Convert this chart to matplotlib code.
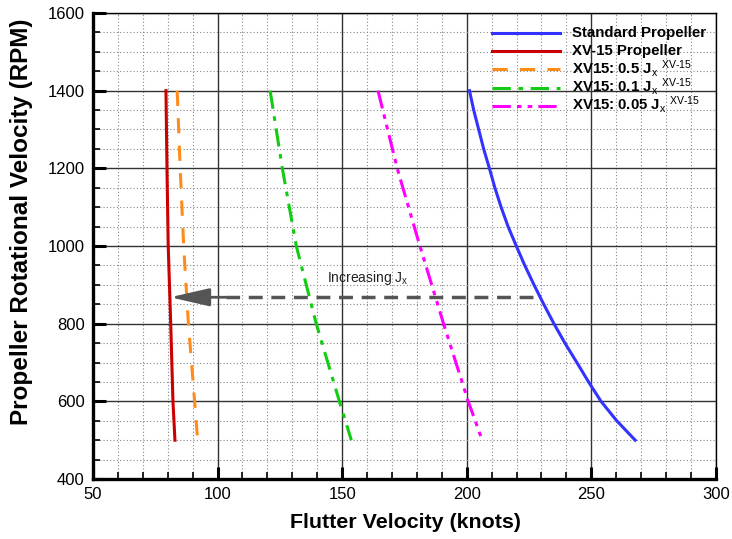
import matplotlib
matplotlib.use("Agg")
import matplotlib.pyplot as plt
from matplotlib.ticker import MultipleLocator

plt.rcParams["font.family"] = ["Liberation Sans", "DejaVu Sans"]
plt.rcParams["mathtext.fontset"] = "custom"
plt.rcParams["mathtext.rm"] = "Liberation Sans"
plt.rcParams["mathtext.it"] = "Liberation Sans:italic"
plt.rcParams["mathtext.bf"] = "Liberation Sans:bold"

# flutter boundaries: RPM vs flutter speed (knots)
rpm = [1400, 1350, 1300, 1250, 1200, 1150, 1100, 1050, 1000, 950,
       900, 850, 800, 750, 700, 650, 600, 550, 500]
v_standard = [201.1, 202.8, 204.8, 206.8, 209.1, 211.3, 213.8, 216.6, 219.9,
              223.3, 227.0, 230.9, 235.0, 239.4, 244.2, 248.9, 253.9, 260.2,
              267.6]

rpm_short = [1400, 1200, 1000, 800, 600, 500]
v_xv15 = [79.3, 79.7, 80.2, 81.2, 82.1, 82.9]
v_half = [83.8, 85.0, 86.4, 88.3, 90.8, 92.0]
v_tenth = [121.1, 126.0, 131.6, 139.6, 148.9, 153.7]
v_twentieth = [164.4, 172.1, 181.2, 190.7, 200.6, 206.2]

labels = ["Standard Propeller", "XV-15 Propeller",
          r"XV15: 0.5 J$_\mathrm{x}$ $^\mathrm{XV\text{-}15}$",
          r"XV15: 0.1 J$_\mathrm{x}$ $^\mathrm{XV\text{-}15}$",
          r"XV15: 0.05 J$_\mathrm{x}$ $^\mathrm{XV\text{-}15}$"]

ARROW_Y = 868
ARROW_FROM, ARROW_BASE, ARROW_TIP = 226.5, 103.5, 81.0

fig = plt.figure(figsize=(7.32, 5.39), dpi=100)
ax = fig.add_axes([0.127, 0.1113, 0.851, 0.8646])

styles = [
    dict(color="#3333ff", lw=2.2),
    dict(color="#cc0000", lw=2.2),
    dict(color="#ff8c1a", lw=2.2, dashes=(5, 4)),
    dict(color="#11cc11", lw=2.2, dashes=(6, 2.5, 1.5, 2.5)),
    dict(color="#ff00ff", lw=2.2, dashes=(6, 2, 1.5, 2, 1.5, 2)),
]
series = [(v_standard, rpm), (v_xv15, rpm_short), (v_half, rpm_short),
          (v_tenth, rpm_short), (v_twentieth, rpm_short)]
for (xs, ys), st in zip(series, styles):
    ax.plot(xs, ys, solid_joinstyle="round", **st)

# legend drawn by hand so every row has the same height
row_y = [0.957, 0.918, 0.879, 0.840, 0.801]
for yy, st, lab in zip(row_y, styles, labels):
    ax.plot([0.640, 0.750], [yy, yy], transform=ax.transAxes, clip_on=False,
            **st)
    ax.text(0.769, yy - 0.009, lab, transform=ax.transAxes, fontsize=10.8,
            fontweight="bold", va="baseline", ha="left")

# "increasing Jx" arrow: dashed shaft + solid head
ax.plot([ARROW_FROM, ARROW_BASE], [ARROW_Y, ARROW_Y], color="#555555",
        lw=2.5, dashes=(4, 2.5))
ax.annotate("", xy=(ARROW_TIP, ARROW_Y), xytext=(ARROW_BASE, ARROW_Y),
            arrowprops=dict(arrowstyle="-|>,head_length=2.4,head_width=0.55",
                            color="#555555", lw=2.0, shrinkA=0, shrinkB=0))
ax.text(160.5, 918, r"Increasing J$_\mathrm{x}$", fontsize=10, ha="center",
        va="center", color="#222222")

ax.set_xlim(50, 300)
ax.set_ylim(400, 1600)
ax.xaxis.set_major_locator(MultipleLocator(50))
ax.xaxis.set_minor_locator(MultipleLocator(10))
ax.yaxis.set_major_locator(MultipleLocator(200))
ax.yaxis.set_minor_locator(MultipleLocator(50))

ax.grid(which="major", color="#333333", lw=1.0, ls="-")
ax.grid(which="minor", color="#888888", lw=0.8, ls=(0, (1, 2)))
ax.set_axisbelow(True)

ax.tick_params(which="both", direction="in", top=False, right=False,
               labelsize=12, pad=6)
ax.tick_params(which="major", length=9, width=2.2)
ax.tick_params(which="minor", length=5, width=1.2)
for side in ("left", "bottom"):
    ax.spines[side].set_linewidth(2.4)
for side in ("top", "right"):
    ax.spines[side].set_linewidth(1.0)

ax.set_xlabel("Flutter Velocity (knots)", fontsize=15.4, fontweight="bold",
              va="top")
ax.set_ylabel("Propeller Rotational Velocity (RPM)", fontsize=17.5,
              fontweight="bold")
ax.xaxis.set_label_coords(0.502, -0.073)
ax.yaxis.set_label_coords(-0.097, 0.551)

fig.savefig("out.png", dpi=100)
